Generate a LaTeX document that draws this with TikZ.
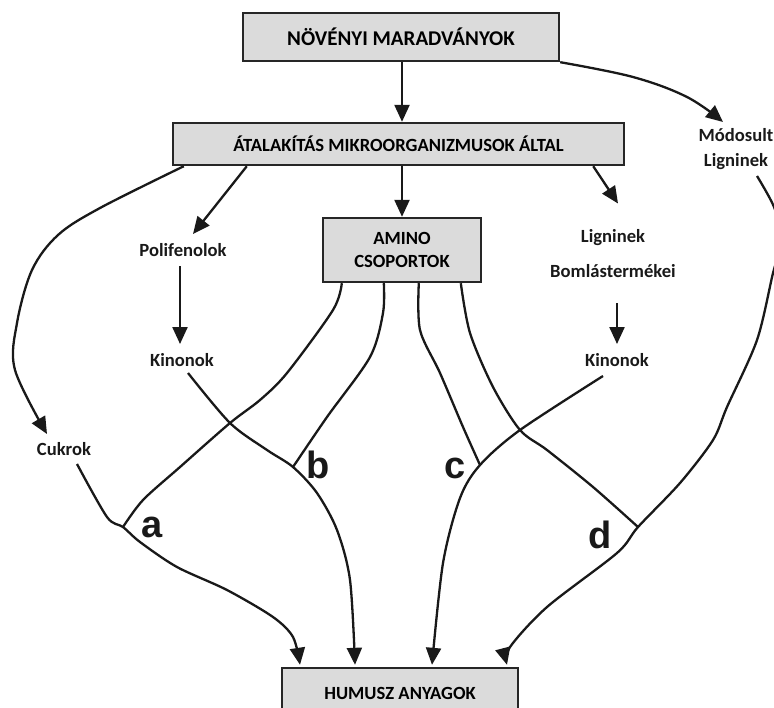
\documentclass[tikz,border=0pt]{standalone}
\usepackage{fontspec}
\setmainfont{Carlito}
\newfontfamily\arialf{Liberation Sans}
\usetikzlibrary{arrows.meta,calc}
\begin{document}
\begin{tikzpicture}[x=0.5pt,y=-0.5pt,
  box/.style={draw=black!85, line width=1.2pt, fill=gray!28, inner sep=0pt, align=center,
    font=\bfseries\fontsize{9.3}{11}\selectfont},
  lbl/.style={inner sep=0pt, align=center, text=black!90, font=\bfseries\fontsize{9.3}{11}\selectfont},
  letr/.style={inner sep=0pt, text=black!90, font=\arialf\bfseries\fontsize{19}{22}\selectfont},
  conn/.style={line width=1.15pt, draw=black!90},
  arr/.style={conn, -{Triangle[length=8.5pt,width=7.5pt]}},
]
\useasboundingbox (0,0) rectangle (774,707);
\clip (0,0) rectangle (774,707);

% boxes
\node[box, minimum width=158pt, minimum height=24pt, font=\bfseries\fontsize{10.5}{12}\selectfont] (box1) at (401,37) {NÖVÉNYI MARADVÁNYOK};
\node[box, minimum width=225.5pt, minimum height=21pt] (box2) at (398.5,144) {ÁTALAKÍTÁS MIKROORGANIZMUSOK ÁLTAL};
\node[box, minimum width=79pt, minimum height=32pt] (amino) at (402,250) {AMINO\\[0.5pt]CSOPORTOK};
\node[box, minimum width=118pt, minimum height=25pt] (humus) at (400,693) {HUMUSZ ANYAGOK};

% labels
\node[lbl] (mod) at (736,149) {Módosult\\[1.5pt]Ligninek};
\node[lbl] (poli) at (183,250) {Polifenolok};
\node[lbl] (kinL) at (182,360) {Kinonok};
\node[lbl] (cuk) at (64,449) {Cukrok};
\node[lbl] (lig) at (613,238) {Ligninek};
\node[lbl] (bom) at (613,271) {Bomlástermékei};
\node[lbl] (kinR) at (617,360) {Kinonok};

\node[letr] (la) at (152,527) {a};
\node[letr] (lb) at (318,465) {b};
\node[letr] (lc) at (455,468) {c};
\node[letr] (ld) at (600,535) {d};

% junctions
\coordinate (ja) at (123,527);
\coordinate (jb) at (293,467);
\coordinate (jc) at (480,465);
\coordinate (jd) at (638,527);

% upper arrows
\draw[arr] (box1.south -| amino.north) -- (box2.north -| amino.north);
\draw[arr] plot[smooth, tension=0.6] coordinates {(box1.south east) (633,77) (687,97) ($(mod.north)+(-13,-6)$)};
\draw[arr] plot[smooth, tension=0.55] coordinates {([xshift=6pt]box2.south west) (100,208) (58,235) (32,270) (17,323) (15,370) ($(cuk.north)+(-17,-8)$)};
\draw[arr] ([xshift=37.5pt]box2.south west) -- ($(poli.north)+(10,-9)$);
\draw[arr] (box2.south -| amino.north) -- (amino.north);
\draw[arr] ([xshift=-16pt]box2.south east) -- ($(lig.north)+(5,-26)$);
\draw[arr] ($(poli.south)+(-3,9)$) -- ($(kinL.north)+(-2,-9)$);
\draw[arr] ($(bom.south)+(4,25)$) -- ($(kinR.north)+(0,-9)$);

% lower lines
\draw[arr] plot[smooth, tension=0.5] coordinates {($(cuk.south)+(13,8)$) (107,517) (ja) (140,542) (177,567) (227,590) (273,617) (293,637) ($(humus.north)+(-100,-2)$)};
\draw[conn] plot[smooth, tension=0.5] coordinates {([xshift=10pt]amino.south west) (333,310) (287,373) (260,400) (230,423) (180,467) (143,500) (ja)};
\draw[conn] plot[smooth, tension=0.5] coordinates {([xshift=31pt]amino.south west) (383,313) (370,357) (327,417) (jb)};
\draw[conn] plot[smooth, tension=0.5] coordinates {([xshift=48.5pt]amino.south west) (420,330) (440,373) (463,427) (jc)};
\draw[conn] plot[smooth, tension=0.5] coordinates {([xshift=69.5pt]amino.south west) (470,333) (493,387) (520,430) (547,450) (593,487) (jd)};
\draw[arr] plot[smooth, tension=0.5] coordinates {($(kinL.south)+(6,6)$) (230,423) (267,450) (jb) (317,493) (337,530) (350,580) ($(humus.north)+(-45,-2)$)};
\draw[arr] plot[smooth, tension=0.5] coordinates {($(kinR.south)+(-14,9)$) (520,430) (jc) (460,498) (443,563) ($(humus.north)+(32,-2)$)};
\draw[arr] plot[smooth, tension=0.5] coordinates {($(mod.south)+(21,6)$) (774,207) (782,240) (773,273) (757,340) (727,407) (713,440) (680,483) (jd) (617,553) (547,607) (510,647) ($(humus.north)+(107,-2)$)};
\end{tikzpicture}
\end{document}
